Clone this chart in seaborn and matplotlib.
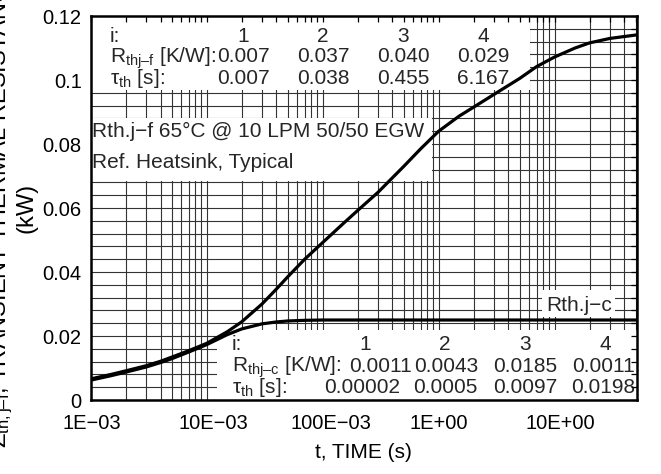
import numpy as np
import pandas as pd
import matplotlib
matplotlib.use('Agg')
import matplotlib.pyplot as plt
from matplotlib.patches import Rectangle
from matplotlib.transforms import ScaledTranslation
import seaborn as sns

# Transient thermal impedance
t_jc = [1e-3, 1.5e-3, 2e-3, 3e-3, 4e-3, 5e-3, 7e-3, 1e-2, 1.5e-2, 2e-2, 3e-2, 4e-2, 5e-2, 7e-2, 0.1, 1.0, 51.0]
z_jc = [0.0062, 0.0076, 0.0087, 0.0103, 0.0117, 0.0129, 0.0150, 0.0173, 0.0204, 0.0222, 0.0238, 0.0244,
        0.0247, 0.0249, 0.0250, 0.0250, 0.0250]

t_jf = [1e-3, 1.5e-3, 2e-3, 3e-3, 4e-3, 5e-3, 7e-3, 1e-2, 1.5e-2, 2e-2, 3e-2, 4e-2, 5e-2, 7e-2, 0.1, 0.15,
        0.2, 0.3, 0.5, 0.7, 1.0, 1.5, 2.0, 3.0, 5.0, 7.0, 10.0, 15.0, 20.0, 30.0, 51.0]
z_jf = [0.0066, 0.0080, 0.0091, 0.0107, 0.0121, 0.0134, 0.0154, 0.0177, 0.0213, 0.0244, 0.0300, 0.0347,
        0.0385, 0.0440, 0.0492, 0.0551, 0.0592, 0.0649, 0.0730, 0.0785, 0.0840, 0.0887, 0.0915, 0.0955,
        0.1005, 0.1042, 0.1072, 0.1100, 0.1116, 0.1130, 0.1141]

x_ticks = [1e-3, 1e-2, 1e-1, 1e0, 1e1]
x_labels = ['1E\u221203', '10E\u221203', '100E\u221203', '1E+00', '10E+00']
y_ticks = [0, 0.02, 0.04, 0.06, 0.08, 0.10, 0.12]
y_labels = ['0', '0.02', '0.04', '0.06', '0.08', '0.1', '0.12']

# Foster model tables printed in the graph
idx = ['1', '2', '3', '4']
jf_r = ['0.007', '0.037', '0.040', '0.029']
jf_tau = ['0.007', '0.038', '0.455', '6.167']
jc_r = ['0.0011', '0.0043', '0.0185', '0.0011']
jc_tau = ['0.00002', '0.0005', '0.0097', '0.0198']

sns.set_theme(style='white')
plt.rcParams['font.family'] = ['Liberation Sans', 'DejaVu Sans']
plt.rcParams['mathtext.fontset'] = 'custom'
plt.rcParams['mathtext.rm'] = 'Liberation Sans'
plt.rcParams['mathtext.default'] = 'regular'

fig = plt.figure(figsize=(6.61, 4.74), dpi=100)
pos = [0.1372, 0.1561, 0.826, 0.8101]
ax = fig.add_axes(pos)

sns.lineplot(x=t_jc, y=z_jc, ax=ax, color='black', linewidth=2.3, zorder=5, estimator=None, sort=False)
sns.lineplot(x=t_jf, y=z_jf, ax=ax, color='black', linewidth=2.3, zorder=5, estimator=None, sort=False)

ax.set_xscale('log')
ax.set_xlim(1e-3, 51)
ax.set_ylim(0, 0.12)
ax.set_yticks(y_ticks)
ax.set_yticks(np.arange(0, 0.1201, 0.004), minor=True)
ax.grid(True, which='both', color='0.2', linewidth=0.8)
ax.set_axisbelow(True)
ax.tick_params(which='both', length=0, labelbottom=False, labelleft=False)
for s in ax.spines.values():
    s.set_visible(False)

# white boxes behind the texts
boxes = [(0, 0.807, 0.8046, 0.193), (0, 0.570, 0.625, 0.164),
         (0.8268, 0.216, 0.1338, 0.0705), (0.2315, 0, 0.7685, 0.182)]
for bx, by, bw, bh in boxes:
    ax.add_patch(Rectangle((bx, by), bw, bh, transform=ax.transAxes,
                           facecolor='white', edgecolor='none', zorder=2))

fs = 15
kw = dict(transform=ax.transAxes, fontsize=fs, va='baseline', zorder=3)
# top table (junction to fluid)
top_cols = [0.2791, 0.4256, 0.5721, 0.7186]
ax.text(0.0353, 0.9336, 'i:', ha='left', **kw)
ax.text(0.0353, 0.8794, 'R$_{thj\u2013f}$ [K/W]:', ha='left', **kw)
ax.text(0.0353, 0.8229, '\u03c4$_{th}$ [s]:', ha='left', **kw)
for cx, a, b, c in zip(top_cols, idx, jf_r, jf_tau):
    ax.text(cx, 0.9336, a, ha='center', **kw)
    ax.text(cx, 0.8794, b, ha='center', **kw)
    ax.text(cx, 0.8229, c, ha='center', **kw)

ax.text(0.002, 0.686, 'Rth.j\u2212f 65\u00b0C @ 10 LPM 50/50 EGW', ha='left', **kw)
ax.text(0.002, 0.603, 'Ref. Heatsink, Typical', ha='left', **kw)
ax.text(0.8955, 0.232, 'Rth.j\u2212c', ha='center', **kw)

# bottom table (junction to case)
bot_hdr = [0.5024, 0.6489, 0.7954, 0.9420]
bot_r = [0.530, 0.6510, 0.7954, 0.9385]
bot_tau = [0.4969, 0.6489, 0.7954, 0.9390]
ax.text(0.259, 0.130, 'i:', ha='left', **kw)
ax.text(0.259, 0.0737, 'R$_{thj\u2013c}$ [K/W]:', ha='left', **kw)
ax.text(0.259, 0.0174, '\u03c4$_{th}$ [s]:', ha='left', **kw)
for i in range(4):
    ax.text(bot_hdr[i], 0.130, idx[i], ha='center', **kw)
    ax.text(bot_r[i], 0.0737, jc_r[i], ha='center', **kw)
    ax.text(bot_tau[i], 0.0174, jc_tau[i], ha='center', **kw)

# overlay axes carrying ticks, labels and frame above the boxes
ax2 = fig.add_axes(pos, sharex=ax, sharey=ax, facecolor='none', zorder=1)
ax2.grid(False)
ax2.set_xticks(x_ticks)
ax2.set_xticklabels(x_labels)
ax2.set_yticklabels(y_labels)
ax2.tick_params(which='both', direction='in', top=True, right=True, length=4.5,
                width=0.9, color='black', labelsize=14.5, labelcolor='black')
ax2.tick_params(axis='x', pad=10)
ax2.tick_params(axis='y', pad=6.5)
for s in ax2.spines.values():
    s.set_visible(True)
    s.set_color('black')
    s.set_linewidth(1.8)

# the datasheet prints the longer labels a little right of their grid line
label_shift_px = [1, 7, 8, 0, 6]
for lab, dx in zip(ax2.get_xticklabels(), label_shift_px):
    lab.set_transform(lab.get_transform() + ScaledTranslation(dx / 100, 0, fig.dpi_scale_trans))

ax2.set_xlabel('t, TIME (s)', fontsize=15, color='black')
ax2.xaxis.set_label_coords(0.5, -0.113)
ax2.set_ylabel('Z$_{th,j\u2013f}$, TRANSIENT THERMAL RESISTANCE\n(kW)', fontsize=17,
               color='black', linespacing=1.0)
ax2.yaxis.set_label_coords(-0.098, 0.5)

fig.savefig('out.png', dpi=100)
